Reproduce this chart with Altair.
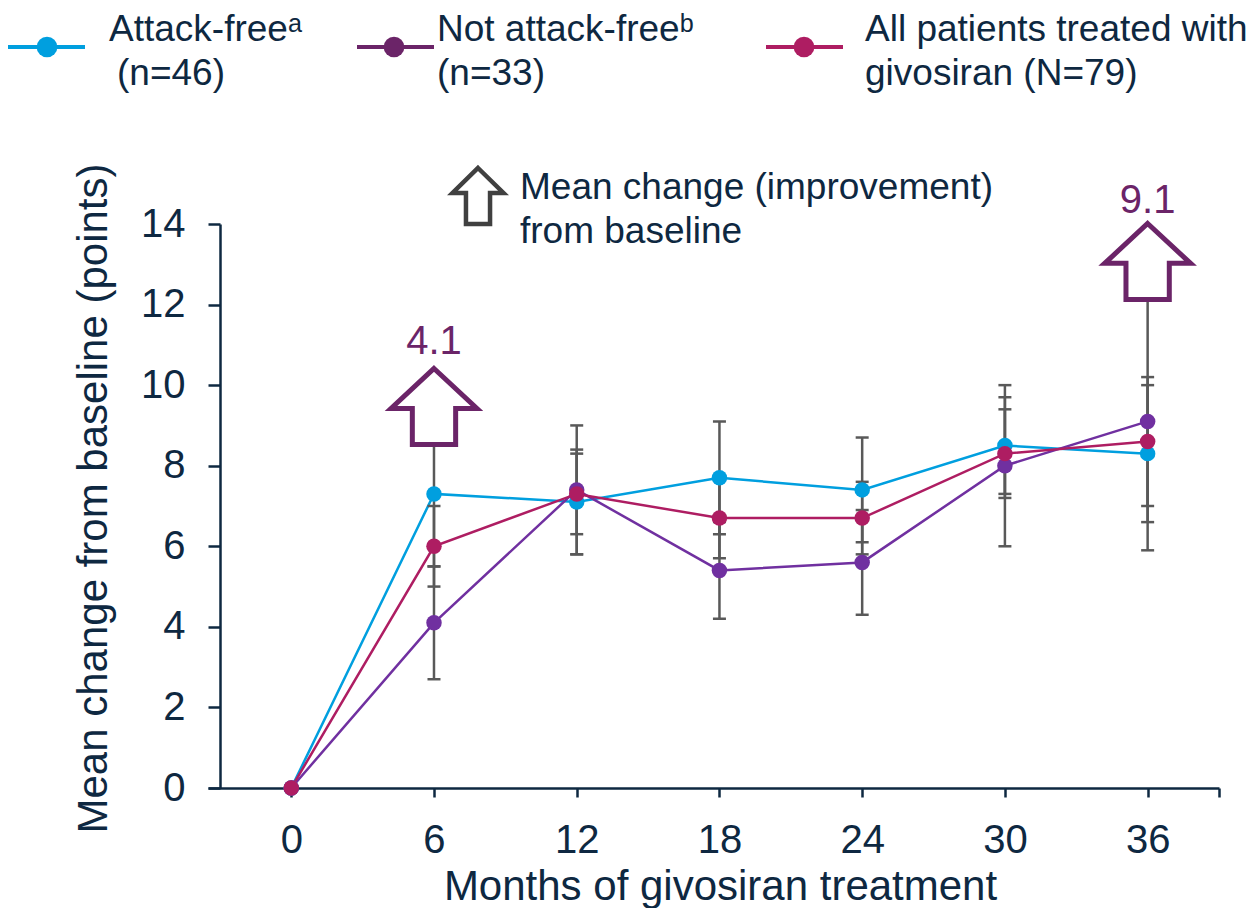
import altair as alt
import pandas as pd

# ---------------- data ----------------
months = [0, 6, 12, 18, 24, 30, 36]
series_names = ["Attack-free", "Not attack-free", "All patients treated with givosiran"]
series_colors = ["#009FDF", "#7030A0", "#AE1D62"]
legend_colors = ["#009FDF", "#6B2468", "#AE1D62"]

af_mean = [0, 7.3, 7.1, 7.7, 7.4, 8.5, 8.3]
af_lo = [None, 5.5, 5.8, 6.3, 6.1, 7.3, 6.6]
af_hi = [None, 9.1, 8.4, 9.1, 8.7, 9.7, 10.0]

naf_mean = [0, 4.1, 7.4, 5.4, 5.6, 8.0, 9.1]
naf_lo = [None, 2.7, 5.8, 4.2, 4.3, 6.0, 5.9]
naf_hi = [None, 5.5, 9.0, 6.6, 6.9, 10.0, 12.3]

all_mean = [0, 6.0, 7.3, 6.7, 6.7, 8.3, 8.6]
all_lo = [None, 5.0, 6.3, 5.7, 5.8, 7.2, 7.0]
all_hi = [None, 7.0, 8.3, 7.7, 7.6, 9.4, 10.2]

x_tick_values = [0, 6, 12, 18, 24, 30, 36, 39]
y_tick_values = [0, 2, 4, 6, 8, 10, 12, 14]

ann_month = [6, 36]
ann_label = ["4.1", "9.1"]
ann_arrow_y = [9.47, 13.07]
ann_text_y = [10.77, 14.27]

legend_line1 = ["Attack-free\u1d43", "Not attack-free\u1d47", "All patients treated with"]
legend_line2 = ["(n=46)", "(n=33)", "givosiran (N=79)"]

note_lines = ["Mean change (improvement)", "from baseline"]

# ---------------- styles ----------------
FONT = "Liberation Sans"
NAVY = "#0E2841"
ERR = "#595959"
ANN = "#6B2468"

W, H = 1011, 564
PX_L, PY_T = 208, 224  # page position of the plot origin


def rel_x(px):
    return px - PX_L


def rel_y(py):
    return py - PY_T


rows = []
for name, mean, lo, hi in zip(series_names,
                              [af_mean, naf_mean, all_mean],
                              [af_lo, naf_lo, all_lo],
                              [af_hi, naf_hi, all_hi]):
    for m, v, l, h in zip(months, mean, lo, hi):
        rows.append(dict(series=name, month=m, mean=v, lo=l, hi=h))
df = pd.DataFrame(rows)
err = df.dropna(subset=["lo"]).copy()
caps = pd.concat([err.assign(cap=err["lo"]), err.assign(cap=err["hi"])], ignore_index=True)
ann = pd.DataFrame(dict(month=ann_month, label=ann_label, ay=ann_arrow_y, ty=ann_text_y))

x_axis = alt.Axis(values=x_tick_values,
                  labelExpr="datum.value > 36 ? '' : datum.label",
                  title="Months of givosiran treatment",
                  grid=False, domainColor=NAVY, domainWidth=2.5,
                  tickColor=NAVY, tickWidth=2.5, tickSize=9,
                  labelFont=FONT, labelFontSize=40, labelColor=NAVY, labelPadding=23,
                  titleFont=FONT, titleFontSize=42, titleFontWeight="normal", titleColor=NAVY,
                  titleBaseline="alphabetic", titleY=111, titleX=512)
y_axis = alt.Axis(values=y_tick_values, offset=-12,
                  title="Mean change from baseline (points)",
                  grid=False, domainColor=NAVY, domainWidth=2.5,
                  tickColor=NAVY, tickWidth=2.5, tickSize=12,
                  labelFont=FONT, labelFontSize=40, labelColor=NAVY, labelPadding=23,
                  titleFont=FONT, titleFontSize=42, titleFontWeight="normal", titleColor=NAVY,
                  titleAngle=270, titleBaseline="alphabetic", titleAlign="center",
                  titleX=-114, titleY=274)

x_scale = alt.Scale(domain=[-3.5, 39], nice=False, zero=False)
y_scale = alt.Scale(domain=[0, 14], nice=False, zero=True)


def X():
    return alt.X("month:Q", scale=x_scale, axis=x_axis)


def Y(field):
    return alt.Y(f"{field}:Q", scale=y_scale, axis=y_axis)


color = alt.Color("series:N", scale=alt.Scale(domain=series_names, range=series_colors), legend=None)

lines = alt.Chart(df).mark_line(strokeWidth=2.5).encode(
    x=X(), y=Y("mean"), color=color, detail="series:N")

bars = alt.Chart(err).mark_rule(color=ERR, strokeWidth=2.5).encode(
    x=X(), y=Y("lo"), y2="hi:Q")

cap_marks = alt.Chart(caps).mark_tick(color=ERR, orient="horizontal", size=13, thickness=2.5, opacity=1).encode(
    x=X(), y=Y("cap"))

points = alt.Chart(df).mark_point(filled=True, size=240, opacity=1).encode(
    x=X(), y=Y("mean"), color=color)

ARROW = "M0,-1L1.13,0.05L0.57,0.05L0.57,1L-0.57,1L-0.57,0.05L-1.13,0.05Z"
arrows = alt.Chart(ann).mark_point(shape=ARROW, size=5776, filled=True, fill="white",
                                   stroke=ANN, strokeWidth=5, opacity=1, fillOpacity=1,
                                   strokeOpacity=1).encode(x=X(), y=Y("ay"))
arrow_text = alt.Chart(ann).mark_text(font=FONT, fontSize=40, color=ANN, align="center",
                                      baseline="alphabetic").encode(
    x=X(), y=Y("ty"), text="label:N")

one = pd.DataFrame({"k": [0]})
layers = [lines, bars, cap_marks, points, arrows, arrow_text]

# ---- legend (drawn at the top) ----
leg_line_x = [(8, 85), (357, 434), (766, 843)]
leg_dot_x = [47, 394, 804]
leg_text_x = [(109, 117), (437, 437), (865, 865)]
leg_sym_y = 47
leg_base_y = (41, 85)
for i in range(3):
    c = legend_colors[i]
    layers.append(alt.Chart(one).mark_rule(color=c, strokeWidth=4).encode(
        x=alt.value(rel_x(leg_line_x[i][0])), x2=alt.value(rel_x(leg_line_x[i][1])),
        y=alt.value(rel_y(leg_sym_y))))
    layers.append(alt.Chart(one).mark_point(filled=True, size=430, color=c, opacity=1).encode(
        x=alt.value(rel_x(leg_dot_x[i])), y=alt.value(rel_y(leg_sym_y))))
    for j, txt in enumerate([legend_line1[i], legend_line2[i]]):
        layers.append(alt.Chart(one).mark_text(font=FONT, fontSize=37, color=NAVY, align="left",
                                               baseline="alphabetic").encode(
            x=alt.value(rel_x(leg_text_x[i][j])), y=alt.value(rel_y(leg_base_y[j])),
            text=alt.value(txt)))

# ---- note with grey arrow ----
GREY_ARROW = "M0,-1L0.91,-0.11L0.43,-0.11L0.43,1L-0.43,1L-0.43,-0.11L-0.91,-0.11Z"
layers.append(alt.Chart(one).mark_point(shape=GREY_ARROW, size=3136, filled=True, fill="white",
                                        stroke="#404040", strokeWidth=4.5, opacity=1).encode(
    x=alt.value(rel_x(478)), y=alt.value(rel_y(196))))
for j, txt in enumerate(note_lines):
    layers.append(alt.Chart(one).mark_text(font=FONT, fontSize=37, color=NAVY, align="left",
                                           baseline="alphabetic").encode(
        x=alt.value(rel_x(520)), y=alt.value(rel_y([199, 243][j])), text=alt.value(txt)))

chart = alt.layer(*layers).properties(
    width=W, height=H,
    autosize=alt.AutoSizeParams(type="none"),
    padding={"left": 200, "top": 216, "right": 28, "bottom": 120},
).configure_view(stroke=None)

chart.save("out.html", embed_options={"renderer": "svg", "actions": False})
